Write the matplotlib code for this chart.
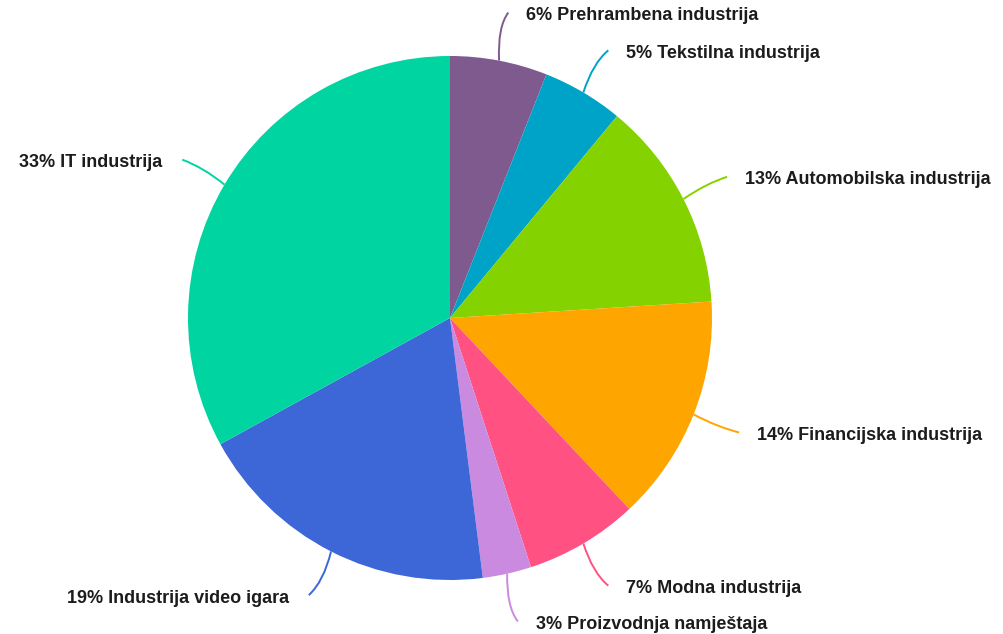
import numpy as np
import matplotlib
matplotlib.use("Agg")
import matplotlib.pyplot as plt
from matplotlib.path import Path
from matplotlib.patches import PathPatch

labels = ["Prehrambena industrija", "Tekstilna industrija", "Automobilska industrija",
          "Financijska industrija", "Modna industrija", "Proizvodnja namještaja",
          "Industrija video igara", "IT industrija"]
values = [6, 5, 13, 14, 7, 3, 19, 33]
colors = ["#7f5a8f", "#00a3c8", "#84d300", "#ffa500", "#ff5283", "#c98ae0", "#3d66d6", "#00d4a0"]

W, H = 1004, 634
fig = plt.figure(figsize=(W / 100, H / 100), dpi=100)
ax = fig.add_axes([0, 0, 1, 1])

cx, cy, R = 450, H - 318, 262
wedges, _ = ax.pie(values, colors=colors, startangle=90, counterclock=False,
                   radius=R, center=(cx, cy), frame=True,
                   wedgeprops=dict(linewidth=0))
ax.set_xlim(0, W)
ax.set_ylim(0, H)
ax.set_aspect("equal")
ax.axis("off")

for w, lab, v, col in zip(wedges, labels, values, colors):
    mid = np.deg2rad((w.theta1 + w.theta2) / 2)
    ux, uy = np.cos(mid), np.sin(mid)
    p0 = (cx + R * ux, cy + R * uy)
    p2 = (cx + 311 * ux, cy + 311 * uy)
    right = ux >= 0
    p1 = (cx + 296 * ux - (8 if right else -8), cy + 296 * uy)
    path = Path([p0, p1, p2], [Path.MOVETO, Path.CURVE3, Path.CURVE3])
    ax.add_patch(PathPatch(path, facecolor="none", edgecolor=col, lw=1.4))
    tx = p2[0] + (18 if right else -20)
    ax.text(tx, p2[1] - 3, f"{v}% {lab}", ha="left" if right else "right", va="center",
            fontsize=13, fontweight="bold", color="#1c1c1c",
            family=["Liberation Sans", "DejaVu Sans"])

fig.savefig("out.png", dpi=100, facecolor="white")
